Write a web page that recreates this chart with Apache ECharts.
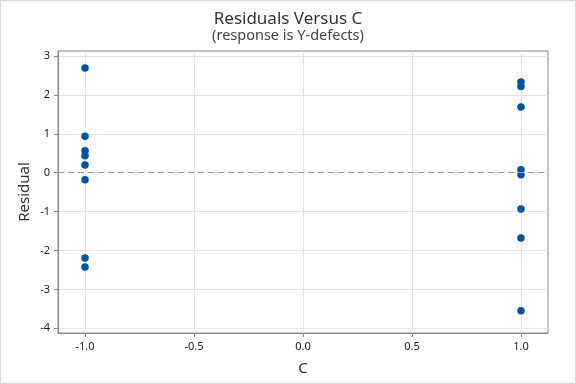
<!DOCTYPE html>
<html><head><meta charset="utf-8">
<script src="https://cdn.jsdelivr.net/npm/echarts@6/dist/echarts.min.js"></script>
<style>html,body{margin:0;padding:0;background:#fff}#c{width:576px;height:384px;box-sizing:border-box;border:1px solid #dcdcdc}</style>
</head><body><div id="c"></div>
<script>
const cValues = [-1,-1,-1,-1,-1,-1,-1,-1, 1,1,1,1,1,1,1,1];
const residuals = [2.69,0.94,0.565,0.437,0.20,-0.18,-2.19,-2.42, 2.33,2.22,1.69,0.08,-0.05,-0.93,-1.68,-3.55];
const xTicks = [-1.0,-0.5,0.0,0.5,1.0];
const yTicks = [-4,-3,-2,-1,0,1,2,3];
const font = '"Noto Sans", "Open Sans", sans-serif';
const chart = echarts.init(document.getElementById('c'), null, {renderer:'canvas'});
chart.setOption({
  animation:false,
  title:{text:'Residuals Versus C',subtext:'(response is Y-defects)',left:'center',top:5,itemGap:0,
    textStyle:{fontFamily:font,fontSize:17,fontWeight:'normal',color:'#333'},
    subtextStyle:{fontFamily:font,fontSize:14.5,color:'#444'}},
  grid:{left:57,right:27,top:50,bottom:50,show:true,borderColor:'#888',borderWidth:1,backgroundColor:'transparent'},
  xAxis:{type:'value',min:-1.124,max:1.124,name:'C',nameLocation:'middle',nameGap:28,nameMoveOverlap:false,
    nameTextStyle:{fontFamily:font,fontSize:15,color:'#333'},
    axisLine:{show:true,onZero:false,lineStyle:{color:'#888'}},
    axisTick:{show:true,length:4,lineStyle:{color:'#888'},customValues:xTicks},
    axisLabel:{fontFamily:font,fontSize:11,color:'#222',margin:8,customValues:xTicks,formatter:v=>v.toFixed(1)},
    splitLine:{show:true,lineStyle:{color:'#e4e4e4'}}
  },
  yAxis:{type:'value',min:-4.12,max:3.13,name:'Residual',nameLocation:'middle',nameGap:26,nameMoveOverlap:false,
    nameTextStyle:{fontFamily:font,fontSize:15,color:'#333'},
    axisLine:{show:true,onZero:false,lineStyle:{color:'#888'}},
    axisTick:{show:true,length:4,lineStyle:{color:'#888'},customValues:yTicks},
    axisLabel:{fontFamily:font,fontSize:11,color:'#222',margin:8,customValues:yTicks},
    splitLine:{show:true,lineStyle:{color:'#e4e4e4'}}
  },
  series:[{type:'scatter',data:cValues.map((c,i)=>[c,residuals[i]]),symbolSize:7.5,
    itemStyle:{color:'#0054a6',opacity:1},
    markLine:{silent:true,symbol:'none',label:{show:false},
      lineStyle:{color:'#999',type:[6,4],width:1},data:[{yAxis:0}]}
  }]
});
</script></body></html>
